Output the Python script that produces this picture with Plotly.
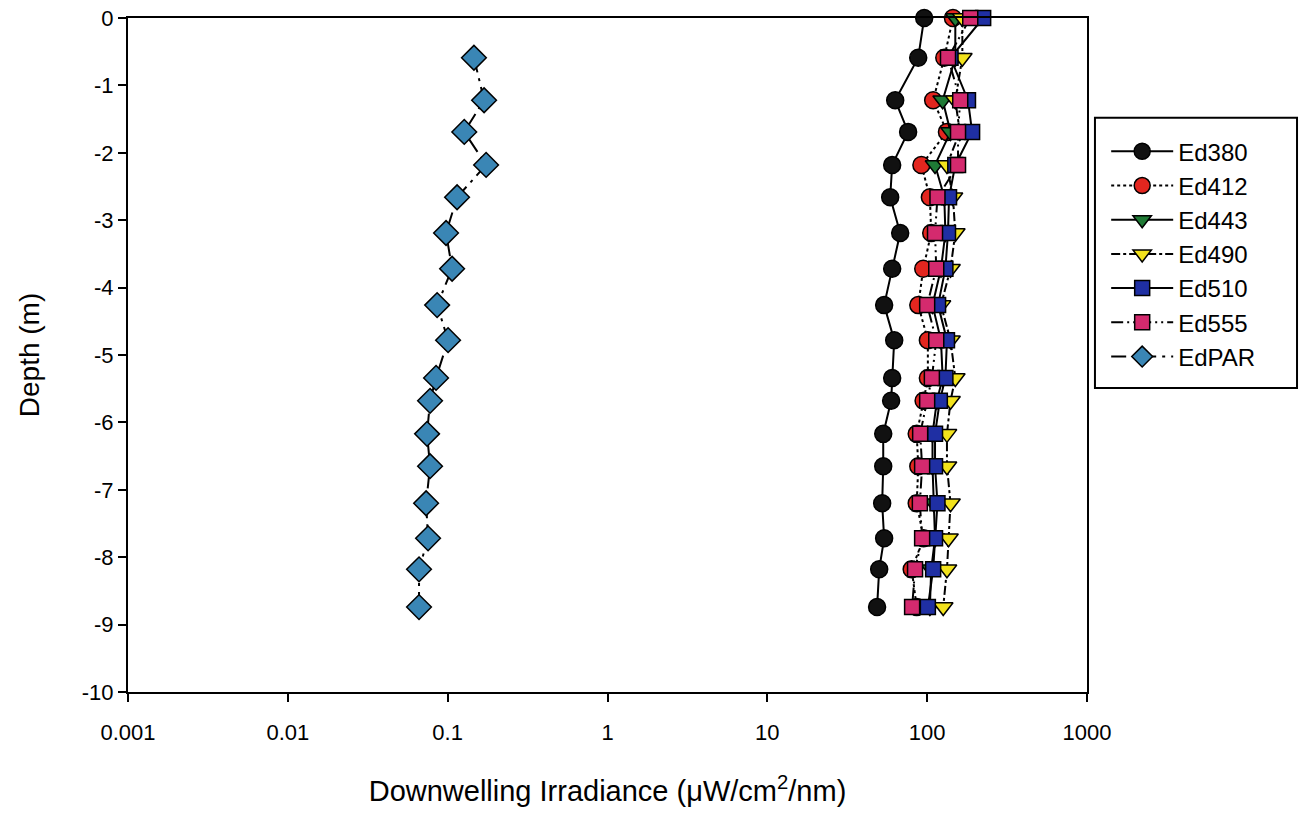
import plotly.graph_objects as go

depth = [0, -0.59, -1.22, -1.69, -2.18, -2.66, -3.19, -3.72, -4.26, -4.78,
         -5.34, -5.68, -6.17, -6.65, -7.20, -7.72, -8.18, -8.74]
depth_par = depth[1:]

ed380 = [95.8, 87.9, 63.1, 76.0, 60.4, 58.7, 67.8, 60.4, 53.8, 62.2,
         60.4, 59.5, 53.1, 53.1, 52.3, 53.8, 50.1, 48.6]
ed412 = [145, 128, 109, 133, 92, 104, 106, 94.5, 88, 101,
         101, 95, 86, 88, 86, 95, 80, 86]
ed443 = [150, 150, 125, 140, 112, 128, 130, 122, 108, 122,
         125, 115, 108, 108, 110, 112, 106, 104]
ed490 = [166, 166, 150, 160, 133, 145, 150, 140, 122, 140,
         150, 140, 133, 133, 140, 136, 133, 126]
ed510 = [224, 140, 180, 191, 150, 137, 135, 130, 117, 133,
         130, 120, 112, 112, 116, 112, 109, 101]
ed555 = [186, 135, 161, 156, 156, 116, 112, 114, 100, 114,
         107, 100, 90.4, 93, 90, 93, 84, 80.5]
edpar = [0.146, 0.169, 0.127, 0.174, 0.1145, 0.0977, 0.1066, 0.0859, 0.1006,
         0.0846, 0.0776, 0.0743, 0.0776, 0.0733, 0.0754, 0.0662, 0.0662]

xtick_vals = [0.001, 0.01, 0.1, 1, 10, 100, 1000]
xtick_text = ["0.001", "0.01", "0.1", "1", "10", "100", "1000"]
ytick_vals = [0, -1, -2, -3, -4, -5, -6, -7, -8, -9, -10]
ytick_text = ["0", "-1", "-2", "-3", "-4", "-5", "-6", "-7", "-8", "-9", "-10"]

FONT = "Arial, Liberation Sans, sans-serif"

series = [
    ("Ed380", ed380, depth, "circle", "#111111", "solid", 17),
    ("Ed412", ed412, depth, "circle", "#e3261f", "dot", 17),
    ("Ed443", ed443, depth, "triangle-down", "#1f7a35", "solid", 17),
    ("Ed490", ed490, depth, "triangle-down", "#f2e21c", "dashdot", 17),
    ("Ed510", ed510, depth, "square", "#1f2fa3", "solid", 15),
    ("Ed555", ed555, depth, "square", "#d42a6e", "12px,4px,2px,4px,2px,4px", 15),
    ("EdPAR", edpar, depth_par, "diamond", "#3a86b5", "longdashdot", 19),
]

fig = go.Figure()
for name, xs, ys, sym, col, dash, sz in series:
    fig.add_trace(go.Scatter(
        x=xs, y=ys, name=name, mode="lines+markers",
        line=dict(color="black", width=2, dash=dash),
        marker=dict(symbol=sym, color=col, size=sz,
                    line=dict(color="black", width=1.5)),
        cliponaxis=False,
    ))

# legend frame
fig.add_shape(type="rect", xref="paper", yref="paper",
              x0=1.0083, x1=1.219, y0=0.451, y1=0.852,
              line=dict(color="black", width=2), fillcolor="rgba(0,0,0,0)")

fig.update_layout(
    width=1305, height=814,
    margin=dict(l=128, r=218, t=18, b=122, autoexpand=False),
    paper_bgcolor="white", plot_bgcolor="white",
    font=dict(family=FONT, size=22, color="black"),
    showlegend=True,
    legend=dict(
        x=1.02, y=0.835, xanchor="left", yanchor="top",
        borderwidth=0, bgcolor="rgba(0,0,0,0)",
        font=dict(family=FONT, size=24, color="black"),
        itemwidth=62, tracegroupgap=0,
    ),
    xaxis=dict(
        type="log", range=[-3, 3],
        tickvals=xtick_vals, ticktext=xtick_text,
        ticks="outside", ticklen=8, tickwidth=1.5, tickcolor="black",
        ticklabelstandoff=12, ticklabeloverflow="allow",
        showline=True, linecolor="black", linewidth=2, mirror=True,
        showgrid=False, zeroline=False, automargin=False,
        tickfont=dict(family=FONT, size=22),
        title=dict(text="Downwelling Irradiance (μW/cm<sup>2</sup>/nm)",
                   font=dict(family=FONT, size=29), standoff=36),
    ),
    yaxis=dict(
        range=[-10, 0],
        tickvals=ytick_vals, ticktext=ytick_text,
        ticks="outside", ticklen=8, tickwidth=1.5, tickcolor="black",
        ticklabeloverflow="allow",
        showline=True, linecolor="black", linewidth=2, mirror=True,
        showgrid=False, zeroline=False, automargin=False,
        tickfont=dict(family=FONT, size=22),
        title=dict(text="Depth (m)", font=dict(family=FONT, size=28), standoff=34),
    ),
)

fig.write_html("out.html", config={"displayModeBar": False},
               post_script="document.body.style.margin='0';")
